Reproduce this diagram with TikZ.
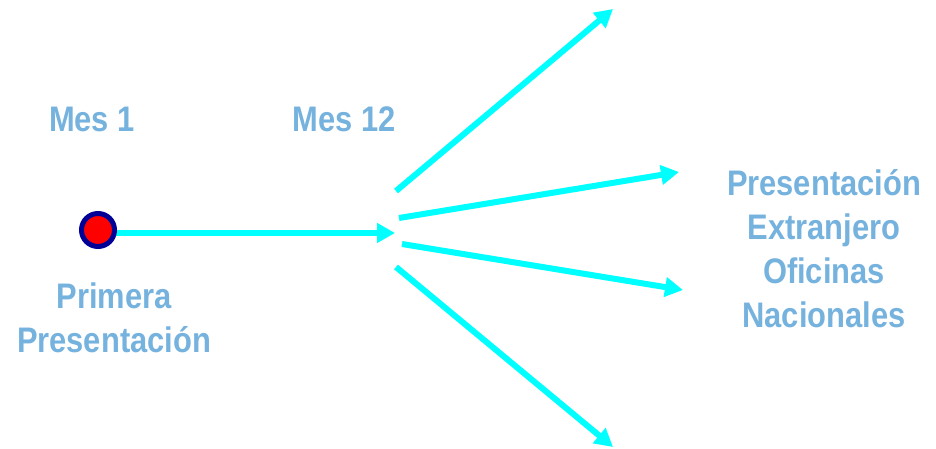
\documentclass[tikz,border=0pt]{standalone}
\usepackage{fontspec}
\newfontfamily\nf{Liberation Sans}[FakeStretch=0.87,BoldFont={Liberation Sans Bold},BoldFeatures={FakeStretch=0.87}]
\usetikzlibrary{arrows.meta}
\definecolor{txtblue}{RGB}{118,178,222}
\definecolor{arrcyan}{RGB}{0,255,255}
\definecolor{ringnavy}{RGB}{0,0,150}
\tikzset{
  lbl/.style={font=\nf\bfseries\fontsize{35.5}{44}\selectfont, text=txtblue, align=center, inner sep=0pt},
  cyanarrow/.style={draw=arrcyan, line width=6pt, -{Triangle[length=18pt,width=19pt]}},
  dot/.style={circle, draw=ringnavy, fill=red, line width=5pt, minimum size=33pt, inner sep=0pt}
}
\begin{document}
\begin{tikzpicture}[x=1pt,y=-1pt]
\useasboundingbox (0,0) rectangle (936,449);
% coordinates
\coordinate (t0) at (395,233);
\coordinate (s1) at (396,191);
\coordinate (e1) at (613,9);
\coordinate (s2) at (399,218);
\coordinate (e2) at (679,172);
\coordinate (s3) at (402,244);
\coordinate (e3) at (683,290);
\coordinate (s4) at (396,267);
\coordinate (e4) at (613,447);
\coordinate (h0) at (110,233);
% arrows
\draw[cyanarrow] (h0) -- (t0);
\draw[cyanarrow] (s1) -- (e1);
\draw[cyanarrow] (s2) -- (e2);
\draw[cyanarrow] (s3) -- (e3);
\draw[cyanarrow] (s4) -- (e4);
% circle
\node[dot] (c) at (98,230) {};
% labels
\node[lbl] (m1) at (92,119) {Mes 1};
\node[lbl] (m12) at (344,119) {Mes 12};
\node[lbl] (pp) at (114,318) {Primera\\Presentación};
\node[lbl] (rt) at (824,249) {Presentación\\Extranjero\\Oficinas\\Nacionales};
\end{tikzpicture}
\end{document}
